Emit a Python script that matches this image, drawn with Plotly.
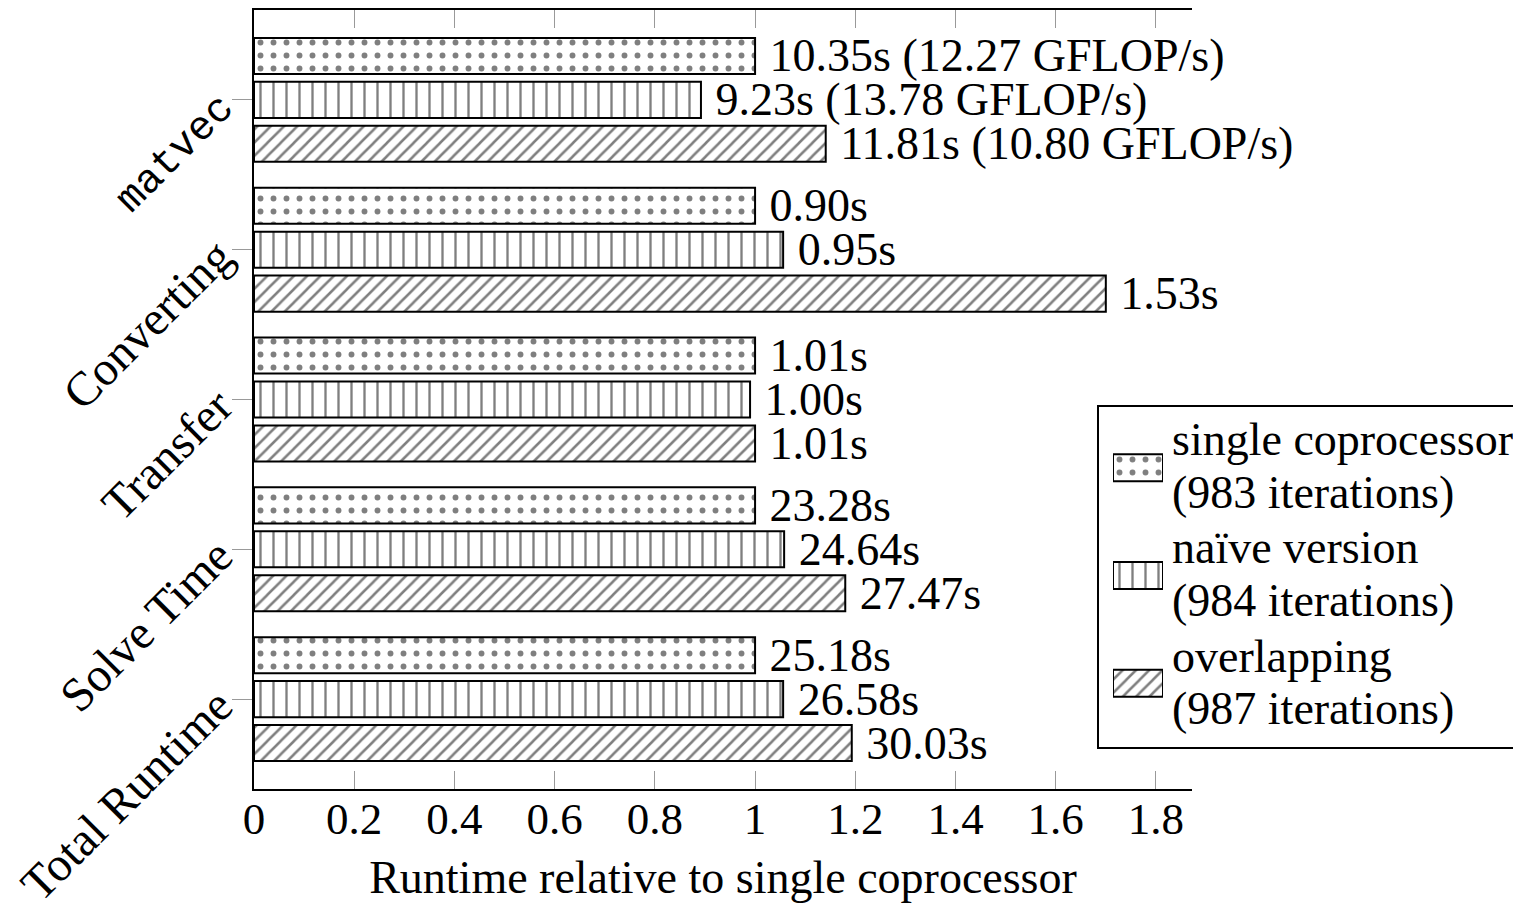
import plotly.graph_objects as go

categories = ["matvec", "Converting", "Transfer", "Solve Time", "Total Runtime"]
category_labels = ['<span style="font-family:Liberation Mono;font-size:41px">matvec</span>',
                   "Converting", "Transfer", "Solve Time", "Total Runtime"]

series_short = ["single", "naive", "overlap"]
legend_lines = [("single coprocessor", "(983 iterations)"),
                ("naïve version", "(984 iterations)"),
                ("overlapping", "(987 iterations)")]

single_rel = [1.00, 1.00, 1.00, 1.00, 1.00]
naive_rel = [0.892, 1.056, 0.990, 1.058, 1.056]
overlap_rel = [1.141, 1.700, 1.000, 1.180, 1.193]

single_lbl = ["10.35s (12.27 GFLOP/s)", "0.90s", "1.01s", "23.28s", "25.18s"]
naive_lbl = ["9.23s (13.78 GFLOP/s)", "0.95s", "1.00s", "24.64s", "26.58s"]
overlap_lbl = ["11.81s (10.80 GFLOP/s)", "1.53s", "1.01s", "27.47s", "30.03s"]

x_tickvals = [0, 0.2, 0.4, 0.6, 0.8, 1.0, 1.2, 1.4, 1.6, 1.8]
x_ticktext = ["0", "0.2", "0.4", "0.6", "0.8", "1", "1.2", "1.4", "1.6", "1.8"]

FONT = "Liberation Serif"
FS = 46

pat_shapes = [".", "|", "/"]
pat_sizes = [13, 13, 9.4]
pat_solid = [0.16, 0.18, 0.27]

# page geometry (the html body adds an 8px offset)
OFF = 8
W, H = 1521 - OFF, 916 - OFF
PL, PR, PT, PB = 254, 1192, 8, 789   # plot box in page pixels


def px(xp):
    return (xp - PL) / (PR - PL)


def py(yp):
    return (PB - yp) / (PB - PT)


fig = go.Figure()
for i, (name, vals, lbls) in enumerate(zip(series_short,
                                           [single_rel, naive_rel, overlap_rel],
                                           [single_lbl, naive_lbl, overlap_lbl])):
    fig.add_trace(go.Bar(
        name=name, y=categories, x=vals, orientation="h",
        text=["\u2005" + t for t in lbls], textposition="outside",
        textfont=dict(family=FONT, size=FS, color="black"),
        constraintext="none", cliponaxis=False, showlegend=False,
        marker=dict(color="white", line=dict(color="black", width=2),
                    pattern=dict(shape=pat_shapes[i], size=pat_sizes[i],
                                 solidity=pat_solid[i], fgcolor="black",
                                 bgcolor="white", fillmode="overlay")),
    ))

# legend swatches drawn as bars on a small inset axis
fig.add_trace(go.Bar(
    y=series_short, x=[1, 1, 1], orientation="h", width=0.25,
    xaxis="x2", yaxis="y2", showlegend=False, hoverinfo="skip",
    marker=dict(color="white", line=dict(color="black", width=2),
                pattern=dict(shape=pat_shapes, size=pat_sizes, solidity=pat_solid,
                             fgcolor="black", bgcolor="white", fillmode="overlay")),
))

fig.update_layout(
    width=W, height=H,
    margin=dict(l=PL - OFF, r=1521 - PR, t=PT - OFF, b=916 - PB),
    paper_bgcolor="white", plot_bgcolor="rgba(0,0,0,0)",
    barmode="group", bargap=0.12, bargroupgap=0.18,
    font=dict(family=FONT, size=FS, color="black"),
    showlegend=False,
    xaxis2=dict(domain=[px(1113), px(1163)], range=[0, 1], anchor="y2",
                visible=False, fixedrange=True),
    yaxis2=dict(domain=[py(737), py(413)], anchor="x2", range=[2.5, -0.5],
                categoryorder="array", categoryarray=series_short,
                visible=False, fixedrange=True),
)

# legend frame
fig.add_shape(type="rect", xref="paper", yref="paper",
              x0=px(1098), x1=px(1540), y0=py(748), y1=py(405),
              line=dict(color="black", width=2), fillcolor="white", layer="below")

# legend text
line_centers = [439, 492, 547, 600, 656, 708]
k = 0
for l1, l2 in legend_lines:
    for t in (l1, l2):
        fig.add_annotation(text=t, xref="paper", yref="paper",
                           x=px(1170), y=py(line_centers[k]),
                           xanchor="left", yanchor="middle", showarrow=False,
                           font=dict(family=FONT, size=FS, color="black"))
        k += 1

fig.update_layout(
    xaxis=dict(range=[0, 1.872], tickvals=x_tickvals, ticktext=x_ticktext,
               ticks="inside", ticklen=18, tickcolor="#999999", tickwidth=1,
               showline=True, linecolor="black", linewidth=2, mirror="allticks",
               showgrid=False, zeroline=False, ticklabelstandoff=-11,
               tickfont=dict(family=FONT, size=45),
               title=dict(text="Runtime relative to single coprocessor", standoff=18,
                          font=dict(family=FONT, size=FS))),
    yaxis=dict(categoryorder="array", categoryarray=categories,
               tickvals=categories, ticktext=category_labels,
               range=[4.6, -0.6], tickangle=-45,
               tickfont=dict(family=FONT, size=48),
               ticks="outside", ticklen=20, tickcolor="#999999", tickwidth=1,
               ticklabelstandoff=4,
               showline=True, linecolor="black", linewidth=2,
               showgrid=False, zeroline=False),
)

fig.write_html("out.html")
